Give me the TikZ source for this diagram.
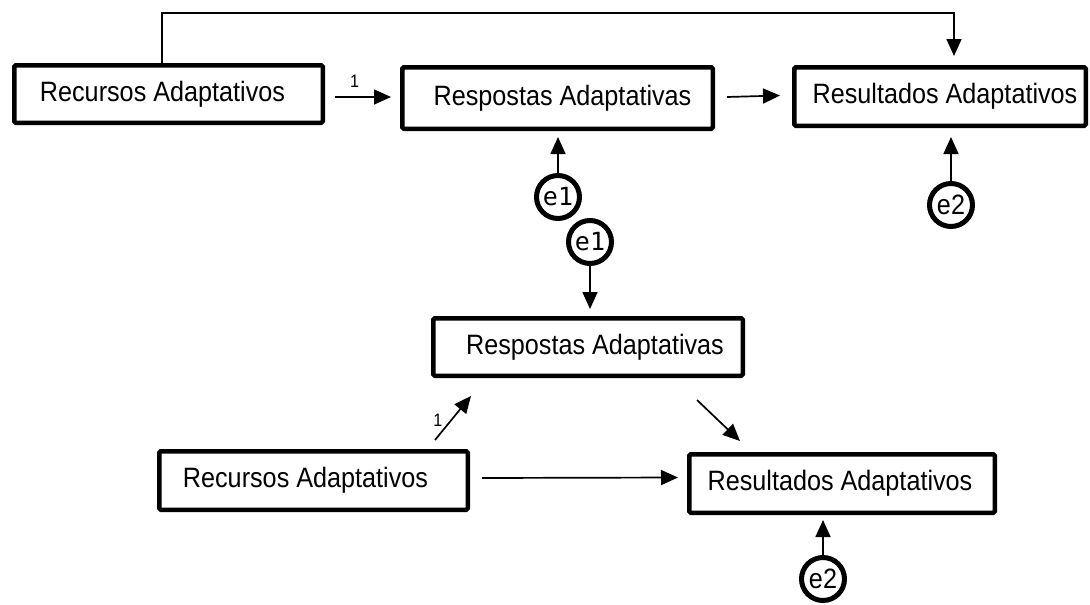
\documentclass[tikz,border=0pt]{standalone}
\usepackage{fontspec}
\setmainfont[FakeStretch=0.9]{Liberation Sans}
\newfontfamily\monofnt{DejaVu Sans Mono}
\usetikzlibrary{arrows.meta}
\tikzset{
  box/.style={draw, line width=4.5pt, rounded corners=1.5pt, inner sep=0pt,
    font=\fontsize{28}{32}\selectfont},
  err/.style={draw, circle, line width=5pt, inner sep=0pt, minimum size=43pt,
    font=\fontsize{28}{30}\selectfont},
  arr/.style={line width=1.7pt, -{Triangle[length=17pt,width=15pt]}},
  lab/.style={font=\fontsize{18}{20}\selectfont, inner sep=0pt}
}
\begin{document}
\begin{tikzpicture}[x=1pt,y=-1pt]
\useasboundingbox (0,0) rectangle (1090,605);
% top model
\node[box, minimum width=308.5pt, minimum height=57.5pt] (b1) at (168.5,94) {\hspace*{-12pt}Recursos Adaptativos};
\node[box, minimum width=310.5pt, minimum height=61.5pt] (b2) at (557.5,98) {\hspace*{10pt}Respostas Adaptativas};
\node[box, minimum width=291.5pt, minimum height=58.5pt] (b3) at (940,96.5) {\hspace*{10pt}Resultados Adaptativos};
\node[err] (e1a) at (558,197) {\monofnt\fontsize{25}{28}\selectfont e1};
\node[err] (e2a) at (951,205) {e2};
% bottom model
\node[err] (e1b) at (590,242) {\monofnt\fontsize{25}{28}\selectfont e1};
\node[box, minimum width=309.5pt, minimum height=57.5pt] (b4) at (588,347) {\hspace*{14pt}Respostas Adaptativas};
\node[box, minimum width=308.5pt, minimum height=58.5pt] (b5) at (313.5,480.5) {\hspace*{-16pt}Recursos Adaptativos};
\node[box, minimum width=305.5pt, minimum height=58.5pt] (b6) at (842,483.5) {\hspace*{-4pt}Resultados Adaptativos};
\node[err] (e2b) at (823,579) {e2};
\coordinate (topline) at (500,13);
% connectors, top
\draw[arr] ([xshift=10pt,yshift=-3pt]b1.east) -- node[lab, above=9pt, pos=0.35] {1} ([xshift=-9pt,yshift=1pt]b2.west);
\draw[arr] ([xshift=12pt,yshift=1pt]b2.east) -- ([xshift=-12pt,yshift=1pt]b3.west);
\draw[arr] ([xshift=-6.5pt]b1.north) |- (topline) -| ([xshift=14pt,yshift=9pt]b3.north);
\draw[arr] (e1a.north) -- ([xshift=0.5pt,yshift=-6pt]b2.south);
\draw[arr] (e2a.north) -- ([xshift=11pt,yshift=-9pt]b3.south);
% connectors, bottom
\draw[arr] (e1b.south) -- ([xshift=2pt,yshift=7pt]b4.north);
\draw[arr] ([xshift=-35pt,yshift=9pt]b5.north east) -- node[lab, left=8pt, pos=0.45] {1} ([xshift=40pt,yshift=-18pt]b4.south west);
\draw[arr] ([xshift=-48pt,yshift=-22pt]b4.south east) -- ([xshift=-102pt,yshift=11pt]b6.north);
\draw[arr] ([xshift=12pt,yshift=2.5pt]b5.east) -- ([xshift=-9pt,yshift=6pt]b6.west);
\draw[arr] (e2b.north) -- ([xshift=-19pt,yshift=-5pt]b6.south);
\end{tikzpicture}
\end{document}
